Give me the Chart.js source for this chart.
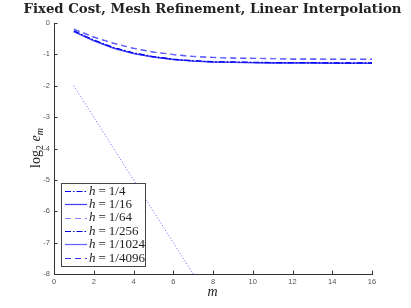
<!DOCTYPE html>
<html><head><meta charset="utf-8">
<script src="https://cdn.jsdelivr.net/npm/chart.js@4"></script>
<style>html,body{margin:0;padding:0;background:#fff}</style>
</head><body>
<canvas id="c" width="411" height="308" style="width:411px;height:308px;display:block"></canvas>
<script>
// ---- data ----
const mValues = [1,2,3,4,5,6,7,8,9,10,11,12,13,14,15,16];
const seriesLabels = ['1/4','1/16','1/64','1/256','1/1024','1/4096'];
const h4    = [-0.25,-0.54,-0.78,-0.95,-1.07,-1.15,-1.20,-1.23,-1.24,-1.25,-1.26,-1.26,-1.26,-1.27,-1.27,-1.27];
const h16   = [-0.27,-0.56,-0.80,-0.97,-1.08,-1.16,-1.21,-1.24,-1.25,-1.26,-1.27,-1.27,-1.27,-1.28,-1.28,-1.28];
const h64   = [-0.19,-0.44,-0.64,-0.80,-0.92,-1.00,-1.06,-1.09,-1.11,-1.12,-1.13,-1.14,-1.14,-1.15,-1.15,-1.15];
const h256  = [-0.26,-0.55,-0.79,-0.96,-1.08,-1.16,-1.21,-1.24,-1.25,-1.26,-1.27,-1.27,-1.27,-1.28,-1.28,-1.28];
const h1024 = [-0.28,-0.57,-0.81,-0.98,-1.09,-1.17,-1.22,-1.25,-1.26,-1.27,-1.28,-1.28,-1.28,-1.29,-1.29,-1.29];
const h4096 = [-0.20,-0.45,-0.65,-0.81,-0.93,-1.01,-1.07,-1.10,-1.12,-1.13,-1.14,-1.15,-1.15,-1.16,-1.16,-1.16];
const refLine = [-2,-3,-4,-5,-6,-7,-8,-9,-10,-11,-12,-13,-14,-15,-16,-17];
const xTickValues = [0,2,4,6,8,10,12,14,16];
const yTickValues = [0,-1,-2,-3,-4,-5,-6,-7,-8];
const titleText = 'Fixed Cost, Mesh Refinement, Linear Interpolation';

// ---- styles ----
const DASHDOT = [6,2,1.5,2];
const DASHED = [6,4];
const styles = [
  {color:'rgb(0,0,235)', dash:DASHDOT},
  {color:'rgb(60,60,255)', dash:[]},
  {color:'rgba(110,110,255,0.85)', dash:DASHED},
  {color:'rgb(0,0,220)', dash:DASHDOT},
  {color:'rgba(80,80,255,0.9)', dash:[]},
  {color:'rgb(50,50,255)', dash:DASHED}
];
const allSeries = [h4,h16,h64,h256,h1024,h4096];
const pts = arr => mValues.map((m,i)=>({x:m,y:arr[i]}));

const datasets = allSeries.map((s,i)=>({
  label: seriesLabels[i], data: pts(s),
  borderColor: styles[i].color, borderDash: styles[i].dash,
  borderWidth: 1.1, pointRadius: 0, tension: 0, fill:false
}));
datasets.push({label:'ref', data: pts(refLine), borderColor:'rgba(60,60,255,0.8)', borderDash:[1,2], borderWidth:1, pointRadius:0});

const decor = {
  id:'decor',
  afterDraw(chart){
    const ctx = chart.ctx, ca = chart.chartArea;
    const xs = chart.scales.x, ys = chart.scales.y;
    ctx.save();
    // inward ticks
    ctx.strokeStyle = '#333'; ctx.lineWidth = 1;
    ctx.beginPath();
    xTickValues.forEach(v=>{const px=Math.round(xs.getPixelForValue(v))+0.5; ctx.moveTo(px,ca.bottom); ctx.lineTo(px,ca.bottom-3.5);});
    yTickValues.forEach(v=>{const py=Math.round(ys.getPixelForValue(v))+0.5; ctx.moveTo(ca.left,py); ctx.lineTo(ca.left+3.5,py);});
    ctx.stroke();
    // title
    ctx.fillStyle = '#222';
    let fs = 14;
    ctx.font = 'bold '+fs+'px "DejaVu Serif"';
    let w = ctx.measureText(titleText).width;
    fs = fs*378/w;
    ctx.font = 'bold '+fs.toFixed(2)+'px "DejaVu Serif"';
    ctx.textAlign='center'; ctx.textBaseline='middle';
    ctx.fillText(titleText, 212.5, 10);
    // x label
    ctx.font = 'italic 14px "Liberation Serif"';
    ctx.fillStyle = '#222';
    ctx.fillText('m', 212.5, 292);
    // y label
    ctx.save();
    ctx.translate(36,148); ctx.rotate(-Math.PI/2);
    ctx.textAlign='left'; ctx.textBaseline='alphabetic';
    const parts = [
      {t:'log', f:'14px "Liberation Serif"', dy:0},
      {t:'2', f:'10px "Liberation Serif"', dy:3},
      {t:' ', f:'14px "Liberation Serif"', dy:0},
      {t:'e', f:'italic 14px "Liberation Serif"', dy:0},
      {t:'m', f:'italic 10px "Liberation Serif"', dy:3}
    ];
    let tw = 0; parts.forEach(p=>{ctx.font=p.f; p.w=ctx.measureText(p.t).width; tw+=p.w;});
    let x0 = -tw/2;
    parts.forEach(p=>{ctx.font=p.f; ctx.fillText(p.t, x0, 4+p.dy); x0+=p.w;});
    ctx.restore();
    // legend
    const bx=61.5, by=183.5, bw=84, bh=83;
    ctx.fillStyle='#fff'; ctx.fillRect(bx,by,bw,bh);
    ctx.strokeStyle='#444'; ctx.lineWidth=1; ctx.strokeRect(bx,by,bw,bh);
    ctx.textAlign='left'; ctx.textBaseline='middle';
    seriesLabels.forEach((lab,i)=>{
      const y = 190.7 + i*13.4;
      ctx.save();
      ctx.strokeStyle = styles[i].color; ctx.setLineDash(styles[i].dash); ctx.lineWidth=1.2;
      ctx.beginPath(); ctx.moveTo(65, Math.round(y)+0.5); ctx.lineTo(87, Math.round(y)+0.5); ctx.stroke();
      ctx.restore();
      ctx.fillStyle='#222';
      let x = 89;
      ctx.font='italic 13px "Liberation Serif"'; ctx.fillText('h', x, y+0.5); x += ctx.measureText('h').width+3;
      ctx.font='13px "Liberation Serif"'; ctx.fillText('=', x, y+0.5); x += ctx.measureText('=').width+3;
      ctx.fillText(lab, x, y+0.5);
    });
    ctx.restore();
  }
};

new Chart(document.getElementById('c'), {
  type:'line',
  data:{datasets},
  options:{
    responsive:false, animation:false, devicePixelRatio:1,
    layout:{padding:{left:0, top:23, right:39, bottom:0}},
    plugins:{legend:{display:false}, title:{display:false}, tooltip:{enabled:false}},
    scales:{
      x:{type:'linear', min:0, max:16,
         afterFit(s){s.height=34;},
         afterBuildTicks(s){s.ticks = xTickValues.map(v=>({value:v}));},
         grid:{display:false, drawTicks:false, tickLength:0}, border:{display:true, color:'#333', width:1},
         ticks:{font:{family:'"Liberation Sans"', size:7.5}, color:'#555', padding:3}},
      y:{type:'linear', min:-8, max:0,
         afterFit(s){s.width=54;},
         afterBuildTicks(s){s.ticks = yTickValues.map(v=>({value:v}));},
         grid:{display:false, drawTicks:false, tickLength:0}, border:{display:true, color:'#333', width:1},
         ticks:{font:{family:'"Liberation Sans"', size:7.5}, color:'#555', padding:4}}
    }
  },
  plugins:[decor]
});
</script>
</body></html>
